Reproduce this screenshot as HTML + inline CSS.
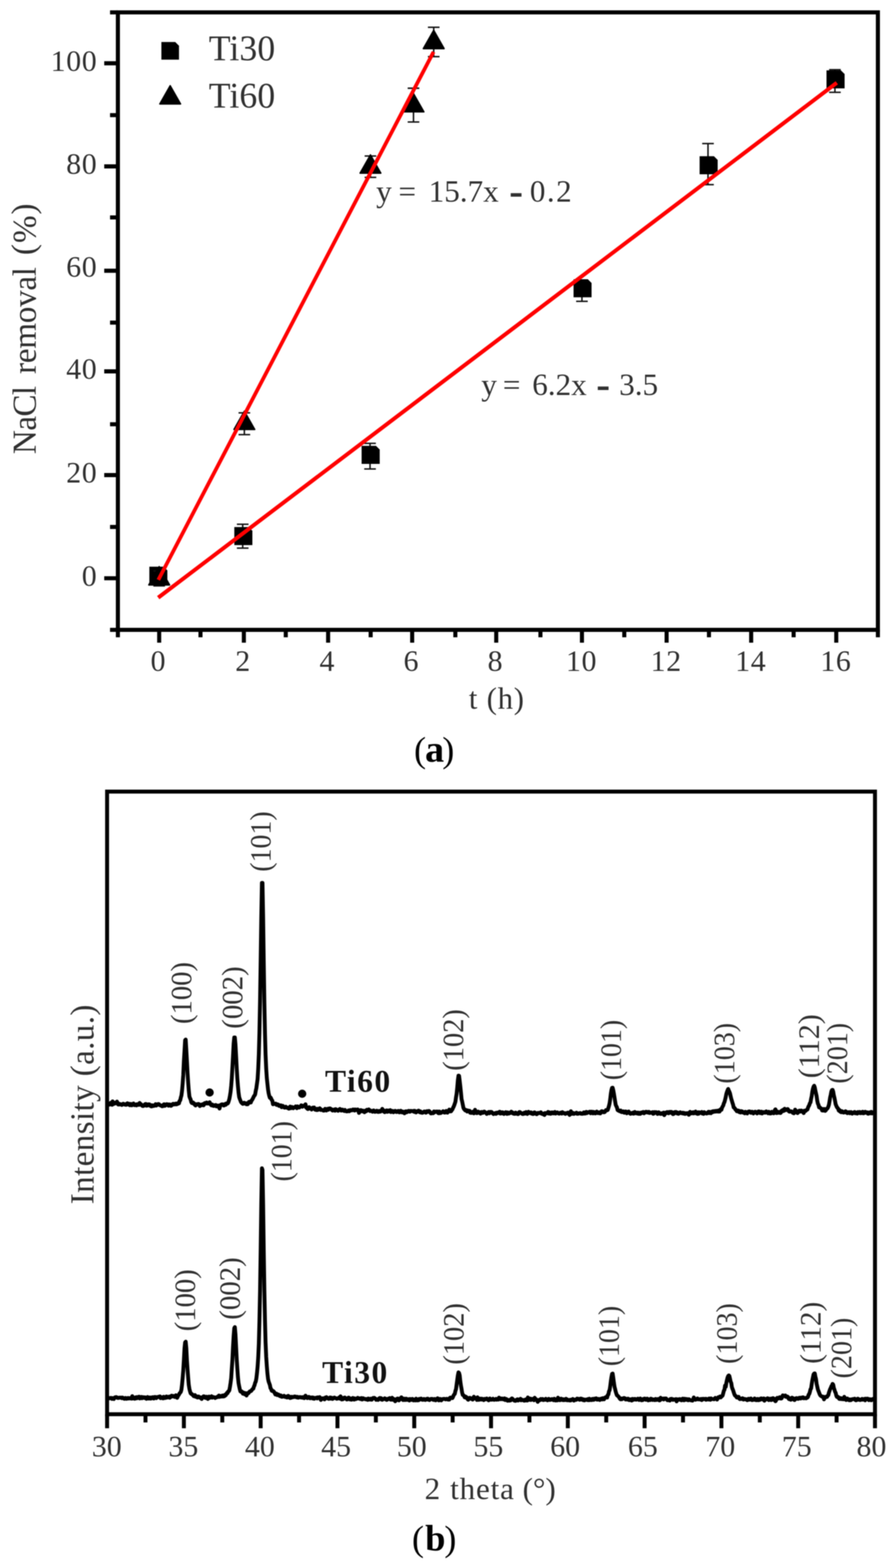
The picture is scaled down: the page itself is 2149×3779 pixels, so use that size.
<!DOCTYPE html>
<html lang="en"><head><meta charset="utf-8"><title>Figure</title>
<style>
html,body{margin:0;padding:0;background:#fff;}
body{width:2149px;height:3779px;}
svg{display:block;filter:blur(1px);}
text{font-family:"Liberation Serif", "DejaVu Serif", serif;}
</style></head><body>
<svg width="2149" height="3779" viewBox="0 0 2149 3779">
<rect width="2149" height="3779" fill="#fff"/>
<g id="plot-a">
<rect x="284.0" y="29.8" width="1831.0" height="1488.2" fill="none" stroke="#000" stroke-width="9.8"/>
<g stroke="#000" stroke-width="9.8">
<line x1="265.1" y1="1518.0" x2="284.0" y2="1518.0"/>
<line x1="251.1" y1="1393.7" x2="284.0" y2="1393.7"/>
<line x1="265.1" y1="1270.0" x2="284.0" y2="1270.0"/>
<line x1="251.1" y1="1145.0" x2="284.0" y2="1145.0"/>
<line x1="265.1" y1="1022.5" x2="284.0" y2="1022.5"/>
<line x1="251.1" y1="895.0" x2="284.0" y2="895.0"/>
<line x1="265.1" y1="777.5" x2="284.0" y2="777.5"/>
<line x1="251.1" y1="652.5" x2="284.0" y2="652.5"/>
<line x1="265.1" y1="524.0" x2="284.0" y2="524.0"/>
<line x1="251.1" y1="401.0" x2="284.0" y2="401.0"/>
<line x1="265.1" y1="277.5" x2="284.0" y2="277.5"/>
<line x1="251.1" y1="152.5" x2="284.0" y2="152.5"/>
<line x1="265.1" y1="29.8" x2="284.0" y2="29.8"/>
<line x1="284.0" y1="1518.0" x2="284.0" y2="1535.9"/>
<line x1="383.5" y1="1518.0" x2="383.5" y2="1548.9"/>
<line x1="483.0" y1="1518.0" x2="483.0" y2="1535.9"/>
<line x1="587.5" y1="1518.0" x2="587.5" y2="1548.9"/>
<line x1="688.5" y1="1518.0" x2="688.5" y2="1535.9"/>
<line x1="790.5" y1="1518.0" x2="790.5" y2="1548.9"/>
<line x1="893.0" y1="1518.0" x2="893.0" y2="1535.9"/>
<line x1="993.0" y1="1518.0" x2="993.0" y2="1548.9"/>
<line x1="1097.0" y1="1518.0" x2="1097.0" y2="1535.9"/>
<line x1="1195.5" y1="1518.0" x2="1195.5" y2="1548.9"/>
<line x1="1302.0" y1="1518.0" x2="1302.0" y2="1535.9"/>
<line x1="1402.0" y1="1518.0" x2="1402.0" y2="1548.9"/>
<line x1="1504.0" y1="1518.0" x2="1504.0" y2="1535.9"/>
<line x1="1606.0" y1="1518.0" x2="1606.0" y2="1548.9"/>
<line x1="1708.0" y1="1518.0" x2="1708.0" y2="1535.9"/>
<line x1="1809.7" y1="1518.0" x2="1809.7" y2="1548.9"/>
<line x1="1912.0" y1="1518.0" x2="1912.0" y2="1535.9"/>
<line x1="2014.7" y1="1518.0" x2="2014.7" y2="1548.9"/>
<line x1="2115.0" y1="1518.0" x2="2115.0" y2="1535.9"/>
</g>
<g font-family='"Liberation Serif", "DejaVu Serif", serif'>
<text x="234.5" y="1412.0" font-size="72" text-anchor="end" fill="#303030" letter-spacing="1.5">0</text>
<text x="234.5" y="1163.3" font-size="72" text-anchor="end" fill="#303030" letter-spacing="1.5">20</text>
<text x="234.5" y="913.3" font-size="72" text-anchor="end" fill="#303030" letter-spacing="1.5">40</text>
<text x="234.5" y="666.8" font-size="72" text-anchor="end" fill="#303030" letter-spacing="1.5">60</text>
<text x="234.5" y="419.3" font-size="72" text-anchor="end" fill="#303030" letter-spacing="1.5">80</text>
<text x="234.5" y="170.8" font-size="72" text-anchor="end" fill="#303030" letter-spacing="1.5">100</text>
<text x="381.5" y="1617.0" font-size="72" text-anchor="middle" fill="#303030" letter-spacing="1.5">0</text>
<text x="585.5" y="1617.0" font-size="72" text-anchor="middle" fill="#303030" letter-spacing="1.5">2</text>
<text x="788.5" y="1617.0" font-size="72" text-anchor="middle" fill="#303030" letter-spacing="1.5">4</text>
<text x="991.0" y="1617.0" font-size="72" text-anchor="middle" fill="#303030" letter-spacing="1.5">6</text>
<text x="1193.5" y="1617.0" font-size="72" text-anchor="middle" fill="#303030" letter-spacing="1.5">8</text>
<text x="1401.0" y="1617.0" font-size="72" text-anchor="middle" fill="#303030" letter-spacing="1.5">10</text>
<text x="1605.0" y="1617.0" font-size="72" text-anchor="middle" fill="#303030" letter-spacing="1.5">12</text>
<text x="1808.7" y="1617.0" font-size="72" text-anchor="middle" fill="#303030" letter-spacing="1.5">14</text>
<text x="2013.7" y="1617.0" font-size="72" text-anchor="middle" fill="#303030" letter-spacing="1.5">16</text>
<text transform="translate(86 1092.5) rotate(-90)" font-size="80" fill="#303030"><tspan x="-1.9" letter-spacing="-1.5">NaCl </tspan><tspan x="191.3" letter-spacing="-0.75">removal </tspan><tspan x="477.8" dy="-3.5">(</tspan><tspan dx="2.2" dy="3.5">%</tspan><tspan dx="2.2" dy="-3.5">)</tspan></text>
<text x="1129.5" y="1707.5" font-size="74" text-anchor="start" textLength="133.0" lengthAdjust="spacing" fill="#303030">t (h)</text>
<text x="503.0" y="145.0" font-size="86" text-anchor="start" textLength="160.0" lengthAdjust="spacing" fill="#303030">Ti30</text>
<text x="503.0" y="258.5" font-size="86" text-anchor="start" textLength="160.0" lengthAdjust="spacing" fill="#303030">Ti60</text>
<text y="486" font-size="75" fill="#303030"><tspan x="906.3">y </tspan><tspan x="960.1">= </tspan><tspan x="1032.8">15.7x </tspan><tspan x="1226.8" font-size="100" font-weight="bold" dy="6.5">- </tspan><tspan x="1276.5" dy="-6.5" letter-spacing="3.5">0.2</tspan></text>
<text y="952" font-size="75" fill="#303030"><tspan x="1159.5">y </tspan><tspan x="1211.5">= </tspan><tspan x="1282.3">6.2x </tspan><tspan x="1436.6" font-size="100" font-weight="bold" dy="6.5">- </tspan><tspan x="1491.8" dy="-6.5">3.5</tspan></text>
</g>
<path d="M388.8 101.2 H422.2 L431.2 110.2 V143.8 H388.8 Z" fill="#000"/>
<path d="M410.0 206.5 L435.0 250.5 H385.0 Z" fill="#000" stroke="#000" stroke-width="3.5" stroke-linejoin="round"/>
<path d="M380.0 1370.0 V1408.0 M366.0 1370.0 h28 M366.0 1408.0 h28" fill="none" stroke="#111" stroke-width="3.6"/>
<path d="M359.8 1365.8 H394.2 L403.2 1374.8 V1409.2 H359.8 Z" fill="#000"/>
<path d="M584.7 1263.5 V1321.0 M570.7 1263.5 h28 M570.7 1321.0 h28" fill="none" stroke="#111" stroke-width="3.6"/>
<path d="M564.5 1270.2 H599.0 L608.0 1279.2 V1313.8 H564.5 Z" fill="#000"/>
<path d="M891.5 1068.5 V1130.3 M877.5 1068.5 h28 M877.5 1130.3 h28" fill="none" stroke="#111" stroke-width="3.6"/>
<path d="M871.2 1074.5 H905.8 L914.8 1083.5 V1118.0 H871.2 Z" fill="#000"/>
<path d="M1402.0 676.0 V726.2 M1388.0 676.0 h28 M1388.0 726.2 h28" fill="none" stroke="#111" stroke-width="3.6"/>
<path d="M1381.8 673.0 H1416.2 L1425.2 682.0 V716.5 H1381.8 Z" fill="#000"/>
<path d="M1705.7 346.0 V445.0 M1691.7 346.0 h28 M1691.7 445.0 h28" fill="none" stroke="#111" stroke-width="3.6"/>
<path d="M1685.5 376.4 H1720.0 L1729.0 385.4 V419.9 H1685.5 Z" fill="#000"/>
<path d="M2011.5 168.0 V222.5 M1997.5 168.0 h28 M1997.5 222.5 h28" fill="none" stroke="#111" stroke-width="3.6"/>
<path d="M1991.2 169.4 H2025.8 L2034.8 178.4 V212.9 H1991.2 Z" fill="#000"/>
<path d="M383.5 1376.0 V1412.0 M369.5 1376.0 h28 M369.5 1412.0 h28" fill="none" stroke="#111" stroke-width="3.6"/>
<path d="M383.5 1365.7 L408.5 1409.7 H358.5 Z" fill="#000" stroke="#000" stroke-width="3.5" stroke-linejoin="round"/>
<path d="M588.7 995.0 V1047.5 M574.7 995.0 h28 M574.7 1047.5 h28" fill="none" stroke="#111" stroke-width="3.6"/>
<path d="M588.7 991.0 L613.7 1035.0 H563.7 Z" fill="#000" stroke="#000" stroke-width="3.5" stroke-linejoin="round"/>
<path d="M892.5 376.0 V427.5 M878.5 376.0 h28 M878.5 427.5 h28" fill="none" stroke="#111" stroke-width="3.6"/>
<path d="M892.5 373.3 L917.5 417.3 H867.5 Z" fill="#000" stroke="#000" stroke-width="3.5" stroke-linejoin="round"/>
<path d="M996.2 212.6 V294.0 M982.2 212.6 h28 M982.2 294.0 h28" fill="none" stroke="#111" stroke-width="3.6"/>
<path d="M996.2 225.5 L1021.2 269.5 H971.2 Z" fill="#000" stroke="#000" stroke-width="3.5" stroke-linejoin="round"/>
<path d="M1044.9 65.8 V136.5 M1030.9 65.8 h28 M1030.9 136.5 h28" fill="none" stroke="#111" stroke-width="3.6"/>
<path d="M1044.9 73.2 L1069.9 117.2 H1019.9 Z" fill="#000" stroke="#000" stroke-width="3.5" stroke-linejoin="round"/>
<line x1="381.5" y1="1397.5" x2="1044.5" y2="125" stroke="#ff0000" stroke-width="9"/>
<line x1="381.2" y1="1440.4" x2="2016" y2="199.5" stroke="#ff0000" stroke-width="9.5"/>
</g>
<g font-family='"Liberation Serif", "DejaVu Serif", serif' fill="#000">
<text y="1836"><tspan x="997.5" font-size="87">(</tspan><tspan x="1024" font-size="92" font-weight="bold">a</tspan><tspan x="1065.5" font-size="87">)</tspan></text>
<text y="3736.5"><tspan x="992.4" font-size="87">(</tspan><tspan x="1024.2" font-size="88" font-weight="bold">b</tspan><tspan x="1070.6" font-size="87">)</tspan></text>
</g>
<g id="plot-b">
<rect x="258.0" y="1907.8" width="1850.0" height="1500.6000000000001" fill="none" stroke="#000" stroke-width="9.5"/>
<g stroke="#000" stroke-width="9.5">
<line x1="258.0" y1="3408.4" x2="258.0" y2="3442.2"/>
<line x1="350.5" y1="3408.4" x2="350.5" y2="3428.2"/>
<line x1="443.0" y1="3408.4" x2="443.0" y2="3442.2"/>
<line x1="535.5" y1="3408.4" x2="535.5" y2="3428.2"/>
<line x1="628.0" y1="3408.4" x2="628.0" y2="3442.2"/>
<line x1="720.5" y1="3408.4" x2="720.5" y2="3428.2"/>
<line x1="813.0" y1="3408.4" x2="813.0" y2="3442.2"/>
<line x1="905.5" y1="3408.4" x2="905.5" y2="3428.2"/>
<line x1="998.0" y1="3408.4" x2="998.0" y2="3442.2"/>
<line x1="1090.5" y1="3408.4" x2="1090.5" y2="3428.2"/>
<line x1="1183.0" y1="3408.4" x2="1183.0" y2="3442.2"/>
<line x1="1275.5" y1="3408.4" x2="1275.5" y2="3428.2"/>
<line x1="1368.0" y1="3408.4" x2="1368.0" y2="3442.2"/>
<line x1="1460.5" y1="3408.4" x2="1460.5" y2="3428.2"/>
<line x1="1553.0" y1="3408.4" x2="1553.0" y2="3442.2"/>
<line x1="1645.5" y1="3408.4" x2="1645.5" y2="3428.2"/>
<line x1="1738.0" y1="3408.4" x2="1738.0" y2="3442.2"/>
<line x1="1830.5" y1="3408.4" x2="1830.5" y2="3428.2"/>
<line x1="1923.0" y1="3408.4" x2="1923.0" y2="3442.2"/>
<line x1="2015.5" y1="3408.4" x2="2015.5" y2="3428.2"/>
<line x1="2108.0" y1="3408.4" x2="2108.0" y2="3442.2"/>
</g>
<g font-family='"Liberation Serif", "DejaVu Serif", serif'>
<text x="257.2" y="3509.5" font-size="72" text-anchor="middle" fill="#303030">30</text>
<text x="441.7" y="3509.5" font-size="72" text-anchor="middle" fill="#303030">35</text>
<text x="626.0" y="3509.5" font-size="72" text-anchor="middle" fill="#303030">40</text>
<text x="809.7" y="3509.5" font-size="72" text-anchor="middle" fill="#303030">45</text>
<text x="992.0" y="3509.5" font-size="72" text-anchor="middle" fill="#303030">50</text>
<text x="1176.5" y="3509.5" font-size="72" text-anchor="middle" fill="#303030">55</text>
<text x="1361.5" y="3509.5" font-size="72" text-anchor="middle" fill="#303030">60</text>
<text x="1548.7" y="3509.5" font-size="72" text-anchor="middle" fill="#303030">65</text>
<text x="1735.2" y="3509.5" font-size="72" text-anchor="middle" fill="#303030">70</text>
<text x="1919.5" y="3509.5" font-size="72" text-anchor="middle" fill="#303030">75</text>
<text x="2099.5" y="3509.5" font-size="72" text-anchor="middle" fill="#303030">80</text>
<text y="3613" font-size="75" fill="#303030"><tspan x="1023">2 </tspan><tspan x="1084.4" letter-spacing="2">theta </tspan><tspan x="1259">(°)</tspan></text>
<text x="225.0" y="2902.4" font-size="80" text-anchor="start" transform="rotate(-90 225.0 2902.4)" textLength="481.3" lengthAdjust="spacing" fill="#303030">Intensity (a.u.)</text>
<text x="783.0" y="2631.0" font-size="76" text-anchor="start" font-weight="bold" textLength="157.0" lengthAdjust="spacing" fill="#111">Ti60</text>
<text x="776.0" y="3332.5" font-size="76" text-anchor="start" font-weight="bold" textLength="157.0" lengthAdjust="spacing" fill="#111">Ti30</text>
<text x="460.5" y="2468.0" font-size="72" text-anchor="start" transform="rotate(-90 460.5 2468.0)" textLength="149.6" lengthAdjust="spacingAndGlyphs" fill="#303030">(100)</text>
<text x="584.3" y="2479.5" font-size="72" text-anchor="start" transform="rotate(-90 584.3 2479.5)" textLength="150.6" lengthAdjust="spacingAndGlyphs" fill="#303030">(002)</text>
<text x="651.8" y="2101.0" font-size="72" text-anchor="start" transform="rotate(-90 651.8 2101.0)" textLength="145.6" lengthAdjust="spacingAndGlyphs" fill="#303030">(101)</text>
<text x="1115.9" y="2580.7" font-size="72" text-anchor="start" transform="rotate(-90 1115.9 2580.7)" textLength="148.6" lengthAdjust="spacingAndGlyphs" fill="#303030">(102)</text>
<text x="1495.9" y="2603.5" font-size="72" text-anchor="start" transform="rotate(-90 1495.9 2603.5)" textLength="145.6" lengthAdjust="spacingAndGlyphs" fill="#303030">(101)</text>
<text x="1769.4" y="2611.7" font-size="72" text-anchor="start" transform="rotate(-90 1769.4 2611.7)" textLength="146.6" lengthAdjust="spacingAndGlyphs" fill="#303030">(103)</text>
<text x="1973.2" y="2598.8" font-size="72" text-anchor="start" transform="rotate(-90 1973.2 2598.8)" textLength="154.6" lengthAdjust="spacingAndGlyphs" fill="#303030">(112)</text>
<text x="2041.5" y="2611.7" font-size="72" text-anchor="start" transform="rotate(-90 2041.5 2611.7)" textLength="146.6" lengthAdjust="spacingAndGlyphs" fill="#303030">(201)</text>
<text x="469.6" y="3208.6" font-size="72" text-anchor="start" transform="rotate(-90 469.6 3208.6)" textLength="149.6" lengthAdjust="spacingAndGlyphs" fill="#303030">(100)</text>
<text x="578.2" y="3180.7" font-size="72" text-anchor="start" transform="rotate(-90 578.2 3180.7)" textLength="150.6" lengthAdjust="spacingAndGlyphs" fill="#303030">(002)</text>
<text x="701.8" y="2847.5" font-size="72" text-anchor="start" transform="rotate(-90 701.8 2847.5)" textLength="145.6" lengthAdjust="spacingAndGlyphs" fill="#303030">(101)</text>
<text x="1117.4" y="3289.1" font-size="72" text-anchor="start" transform="rotate(-90 1117.4 3289.1)" textLength="148.6" lengthAdjust="spacingAndGlyphs" fill="#303030">(102)</text>
<text x="1491.3" y="3292.8" font-size="72" text-anchor="start" transform="rotate(-90 1491.3 3292.8)" textLength="145.6" lengthAdjust="spacingAndGlyphs" fill="#303030">(101)</text>
<text x="1774.9" y="3287.2" font-size="72" text-anchor="start" transform="rotate(-90 1774.9 3287.2)" textLength="146.6" lengthAdjust="spacingAndGlyphs" fill="#303030">(103)</text>
<text x="1977.0" y="3287.0" font-size="72" text-anchor="start" transform="rotate(-90 1977.0 3287.0)" textLength="149.6" lengthAdjust="spacingAndGlyphs" fill="#303030">(112)</text>
<text x="2050.7" y="3322.2" font-size="72" text-anchor="start" transform="rotate(-90 2050.7 3322.2)" textLength="146.6" lengthAdjust="spacingAndGlyphs" fill="#303030">(201)</text>
</g>
<path d="M258.0 2657.9 L259.5 2660.8 L261.0 2660.1 L262.4 2660.8 L263.9 2662.3 L265.4 2660.3 L266.9 2657.6 L268.4 2660.7 L269.8 2662.7 L271.3 2654.3 L272.8 2661.1 L274.3 2659.1 L275.8 2657.7 L277.2 2659.5 L278.7 2658.9 L280.2 2658.7 L281.7 2654.9 L283.2 2657.6 L284.6 2661.9 L286.1 2660.2 L287.6 2661.8 L289.1 2660.7 L290.6 2661.8 L292.0 2661.7 L293.5 2663.0 L295.0 2662.1 L296.5 2660.1 L298.0 2660.5 L299.4 2661.3 L300.9 2662.2 L302.4 2661.3 L303.9 2662.8 L305.4 2661.3 L306.8 2659.0 L308.3 2662.0 L309.8 2662.2 L311.3 2660.1 L312.8 2663.8 L314.2 2662.5 L315.7 2660.6 L317.2 2663.9 L318.7 2662.2 L320.2 2662.3 L321.6 2659.5 L323.1 2663.1 L324.6 2663.6 L326.1 2662.6 L327.6 2661.9 L329.0 2664.1 L330.5 2661.2 L332.0 2662.0 L333.5 2661.5 L335.0 2662.9 L336.4 2658.2 L337.9 2662.2 L339.4 2660.8 L340.9 2662.5 L342.4 2664.9 L343.8 2665.6 L345.3 2665.4 L346.8 2664.8 L348.3 2662.2 L349.8 2661.1 L351.2 2660.8 L352.7 2664.8 L354.2 2664.3 L355.7 2664.4 L357.2 2661.5 L358.6 2661.9 L360.1 2661.6 L361.6 2664.1 L363.1 2665.9 L364.6 2666.5 L366.0 2663.6 L367.5 2665.9 L369.0 2664.1 L370.5 2665.4 L372.0 2664.7 L373.4 2663.6 L374.9 2661.1 L376.4 2664.6 L377.9 2663.5 L379.4 2661.7 L380.8 2660.8 L382.3 2660.8 L383.8 2662.0 L385.3 2663.7 L386.8 2664.1 L388.2 2664.3 L389.7 2666.0 L391.2 2666.1 L392.7 2665.8 L394.2 2661.9 L395.6 2661.3 L397.1 2665.2 L398.6 2664.1 L400.1 2663.3 L401.6 2661.1 L403.0 2662.6 L404.5 2661.6 L406.0 2664.8 L407.5 2662.0 L409.0 2661.9 L410.4 2662.4 L411.9 2665.2 L413.4 2663.9 L414.9 2663.4 L416.4 2660.6 L417.8 2660.3 L419.3 2660.6 L420.8 2661.7 L422.3 2660.8 L423.8 2659.6 L425.2 2661.7 L426.7 2660.2 L428.2 2660.6 L429.7 2657.9 L431.2 2659.1 L432.6 2653.3 L434.1 2651.9 L435.6 2645.2 L437.1 2640.2 L438.6 2628.4 L440.0 2612.3 L441.5 2590.8 L443.0 2557.6 L444.5 2533.4 L446.0 2507.0 L447.4 2505.4 L448.9 2531.0 L450.4 2558.0 L451.9 2587.1 L453.4 2609.9 L454.8 2628.1 L456.3 2642.4 L457.8 2646.8 L459.3 2649.8 L460.8 2656.1 L462.2 2658.4 L463.7 2658.1 L465.2 2657.1 L466.7 2660.3 L468.2 2659.7 L469.6 2662.7 L471.1 2664.3 L472.6 2662.2 L474.1 2661.2 L475.6 2661.9 L477.0 2660.8 L478.5 2660.6 L480.0 2662.0 L481.5 2665.6 L483.0 2662.5 L484.4 2663.7 L485.9 2662.2 L487.4 2663.6 L488.9 2661.0 L490.4 2663.9 L491.8 2661.4 L493.3 2658.6 L494.8 2659.1 L496.3 2659.6 L497.8 2657.1 L499.2 2659.0 L500.7 2659.6 L502.2 2658.8 L503.7 2659.3 L505.2 2656.5 L506.6 2661.0 L508.1 2662.8 L509.6 2664.0 L511.1 2661.8 L512.6 2664.2 L514.0 2665.3 L515.5 2665.1 L517.0 2663.9 L518.5 2665.2 L520.0 2663.2 L521.4 2666.5 L522.9 2665.1 L524.4 2666.4 L525.9 2664.3 L527.4 2667.2 L528.8 2671.6 L530.3 2666.4 L531.8 2662.6 L533.3 2662.3 L534.8 2661.4 L536.2 2662.6 L537.7 2661.8 L539.2 2664.4 L540.7 2663.1 L542.2 2660.7 L543.6 2662.8 L545.1 2659.4 L546.6 2659.7 L548.1 2659.8 L549.6 2658.0 L551.0 2653.9 L552.5 2648.8 L554.0 2640.8 L555.5 2631.5 L557.0 2616.9 L558.4 2599.0 L559.9 2572.6 L561.4 2545.1 L562.9 2515.3 L564.4 2500.3 L565.8 2500.3 L567.3 2516.9 L568.8 2544.7 L570.3 2574.4 L571.8 2599.3 L573.2 2617.1 L574.7 2633.0 L576.2 2644.0 L577.7 2648.6 L579.2 2652.4 L580.6 2655.9 L582.1 2657.8 L583.6 2659.4 L585.1 2660.4 L586.6 2659.6 L588.0 2657.6 L589.5 2658.9 L591.0 2660.0 L592.5 2658.8 L594.0 2661.4 L595.4 2659.9 L596.9 2661.3 L598.4 2657.6 L599.9 2655.6 L601.4 2655.3 L602.8 2657.3 L604.3 2657.0 L605.8 2652.3 L607.3 2651.1 L608.8 2648.2 L610.2 2645.5 L611.7 2642.0 L613.2 2640.4 L614.7 2637.5 L616.2 2628.7 L617.6 2622.4 L619.1 2611.7 L620.6 2600.7 L622.1 2575.9 L623.6 2540.1 L625.0 2489.2 L626.5 2412.5 L628.0 2315.7 L629.5 2209.7 L631.0 2127.9 L632.4 2127.8 L633.9 2210.2 L635.4 2317.8 L636.9 2415.9 L638.4 2489.8 L639.8 2541.3 L641.3 2575.0 L642.8 2598.0 L644.3 2612.2 L645.8 2626.0 L647.2 2634.7 L648.7 2641.1 L650.2 2645.9 L651.7 2644.8 L653.2 2647.4 L654.6 2651.1 L656.1 2652.4 L657.6 2661.3 L659.1 2660.6 L660.6 2660.7 L662.0 2660.5 L663.5 2659.6 L665.0 2660.5 L666.5 2663.0 L668.0 2661.4 L669.4 2661.9 L670.9 2662.4 L672.4 2665.4 L673.9 2664.7 L675.4 2664.5 L676.8 2663.8 L678.3 2668.3 L679.8 2667.3 L681.3 2665.1 L682.8 2668.3 L684.2 2668.4 L685.7 2669.5 L687.2 2668.2 L688.7 2667.2 L690.2 2669.5 L691.6 2669.6 L693.1 2670.0 L694.6 2671.3 L696.1 2672.0 L697.6 2668.7 L699.0 2667.0 L700.5 2670.8 L702.0 2670.3 L703.5 2667.9 L705.0 2669.0 L706.4 2670.9 L707.9 2669.6 L709.4 2669.0 L710.9 2667.7 L712.4 2666.6 L713.8 2667.5 L715.3 2670.8 L716.8 2666.4 L718.3 2668.5 L719.8 2667.8 L721.2 2669.1 L722.7 2667.7 L724.2 2666.7 L725.7 2664.0 L727.2 2664.4 L728.6 2667.4 L730.1 2664.9 L731.6 2665.4 L733.1 2665.4 L734.6 2665.3 L736.0 2661.4 L737.5 2669.1 L739.0 2669.0 L740.5 2672.1 L742.0 2672.9 L743.4 2669.6 L744.9 2668.3 L746.4 2671.5 L747.9 2671.0 L749.4 2671.4 L750.8 2674.0 L752.3 2670.3 L753.8 2669.4 L755.3 2669.7 L756.8 2669.3 L758.2 2673.1 L759.7 2674.6 L761.2 2672.7 L762.7 2675.3 L764.2 2672.2 L765.6 2675.1 L767.1 2672.8 L768.6 2673.4 L770.1 2671.0 L771.6 2672.3 L773.0 2675.1 L774.5 2674.7 L776.0 2675.1 L777.5 2675.3 L779.0 2676.5 L780.4 2676.6 L781.9 2676.3 L783.4 2672.3 L784.9 2673.3 L786.4 2676.3 L787.8 2674.7 L789.3 2672.3 L790.8 2674.7 L792.3 2671.8 L793.8 2671.4 L795.2 2671.4 L796.7 2672.9 L798.2 2673.0 L799.7 2675.5 L801.2 2676.5 L802.6 2674.6 L804.1 2674.8 L805.6 2673.8 L807.1 2676.8 L808.6 2673.1 L810.0 2674.0 L811.5 2675.7 L813.0 2676.0 L814.5 2677.2 L816.0 2674.3 L817.4 2674.1 L818.9 2672.6 L820.4 2674.8 L821.9 2676.6 L823.4 2674.5 L824.8 2674.2 L826.3 2676.2 L827.8 2675.6 L829.3 2677.5 L830.8 2674.9 L832.2 2677.7 L833.7 2678.1 L835.2 2678.5 L836.7 2678.4 L838.2 2677.8 L839.6 2676.2 L841.1 2678.3 L842.6 2677.3 L844.1 2675.3 L845.6 2676.3 L847.0 2675.7 L848.5 2675.9 L850.0 2674.0 L851.5 2675.7 L853.0 2674.2 L854.4 2676.6 L855.9 2674.0 L857.4 2674.3 L858.9 2674.3 L860.4 2675.8 L861.8 2673.8 L863.3 2676.3 L864.8 2682.2 L866.3 2679.8 L867.8 2678.7 L869.2 2675.3 L870.7 2678.1 L872.2 2676.5 L873.7 2678.6 L875.2 2676.9 L876.6 2678.3 L878.1 2680.6 L879.6 2677.6 L881.1 2676.3 L882.6 2678.1 L884.0 2674.6 L885.5 2676.0 L887.0 2675.5 L888.5 2673.9 L890.0 2675.0 L891.4 2677.7 L892.9 2677.3 L894.4 2677.3 L895.9 2677.2 L897.4 2679.4 L898.8 2678.3 L900.3 2676.3 L901.8 2677.3 L903.3 2679.7 L904.8 2678.5 L906.2 2678.7 L907.7 2676.9 L909.2 2679.5 L910.7 2678.7 L912.2 2679.9 L913.6 2677.4 L915.1 2678.9 L916.6 2679.1 L918.1 2677.0 L919.6 2675.4 L921.0 2672.4 L922.5 2677.9 L924.0 2675.8 L925.5 2679.5 L927.0 2680.4 L928.4 2678.0 L929.9 2677.0 L931.4 2676.1 L932.9 2679.7 L934.4 2678.0 L935.8 2676.4 L937.3 2678.8 L938.8 2676.4 L940.3 2675.5 L941.8 2680.0 L943.2 2679.1 L944.7 2678.6 L946.2 2677.5 L947.7 2680.5 L949.2 2679.1 L950.6 2679.3 L952.1 2677.3 L953.6 2678.0 L955.1 2680.1 L956.6 2679.7 L958.0 2678.2 L959.5 2677.3 L961.0 2680.3 L962.5 2680.8 L964.0 2678.5 L965.4 2677.0 L966.9 2677.8 L968.4 2681.0 L969.9 2679.2 L971.4 2679.1 L972.8 2680.2 L974.3 2683.2 L975.8 2682.1 L977.3 2678.5 L978.8 2678.5 L980.2 2680.6 L981.7 2678.2 L983.2 2678.3 L984.7 2677.3 L986.2 2679.1 L987.6 2679.3 L989.1 2677.3 L990.6 2677.6 L992.1 2677.6 L993.6 2678.1 L995.0 2678.1 L996.5 2677.3 L998.0 2679.8 L999.5 2677.2 L1001.0 2679.8 L1002.4 2681.1 L1003.9 2678.9 L1005.4 2678.4 L1006.9 2677.4 L1008.4 2676.8 L1009.8 2679.9 L1011.3 2680.6 L1012.8 2678.3 L1014.3 2681.3 L1015.8 2681.7 L1017.2 2681.9 L1018.7 2681.5 L1020.2 2680.8 L1021.7 2678.8 L1023.2 2678.9 L1024.6 2678.8 L1026.1 2681.7 L1027.6 2680.7 L1029.1 2678.0 L1030.6 2678.4 L1032.0 2679.7 L1033.5 2677.7 L1035.0 2678.7 L1036.5 2680.7 L1038.0 2683.4 L1039.4 2683.3 L1040.9 2683.0 L1042.4 2682.0 L1043.9 2682.8 L1045.4 2678.6 L1046.8 2680.9 L1048.3 2679.9 L1049.8 2679.0 L1051.3 2678.8 L1052.8 2680.3 L1054.2 2678.8 L1055.7 2682.7 L1057.2 2683.0 L1058.7 2678.8 L1060.2 2681.0 L1061.6 2682.7 L1063.1 2680.9 L1064.6 2680.2 L1066.1 2680.6 L1067.6 2678.1 L1069.0 2679.7 L1070.5 2681.3 L1072.0 2681.5 L1073.5 2679.2 L1075.0 2677.4 L1076.4 2680.4 L1077.9 2681.7 L1079.4 2678.3 L1080.9 2679.0 L1082.4 2674.2 L1083.8 2676.0 L1085.3 2678.6 L1086.8 2678.2 L1088.3 2675.6 L1089.8 2674.0 L1091.2 2670.5 L1092.7 2667.7 L1094.2 2664.1 L1095.7 2659.8 L1097.2 2655.1 L1098.6 2644.7 L1100.1 2635.8 L1101.6 2621.0 L1103.1 2603.1 L1104.6 2592.3 L1106.0 2592.7 L1107.5 2605.1 L1109.0 2618.3 L1110.5 2633.0 L1112.0 2649.0 L1113.4 2654.6 L1114.9 2662.2 L1116.4 2669.5 L1117.9 2672.8 L1119.4 2674.0 L1120.8 2676.2 L1122.3 2674.9 L1123.8 2676.8 L1125.3 2678.9 L1126.8 2676.2 L1128.2 2677.8 L1129.7 2677.3 L1131.2 2677.1 L1132.7 2681.7 L1134.2 2682.1 L1135.6 2680.7 L1137.1 2682.1 L1138.6 2679.5 L1140.1 2680.8 L1141.6 2683.2 L1143.0 2679.8 L1144.5 2674.7 L1146.0 2681.9 L1147.5 2680.9 L1149.0 2682.9 L1150.4 2680.1 L1151.9 2679.1 L1153.4 2680.8 L1154.9 2682.5 L1156.4 2680.5 L1157.8 2684.0 L1159.3 2681.0 L1160.8 2679.8 L1162.3 2682.2 L1163.8 2682.1 L1165.2 2680.2 L1166.7 2679.0 L1168.2 2679.8 L1169.7 2681.5 L1171.2 2681.9 L1172.6 2684.6 L1174.1 2682.1 L1175.6 2682.4 L1177.1 2680.0 L1178.6 2683.2 L1180.0 2682.4 L1181.5 2679.7 L1183.0 2681.3 L1184.5 2680.2 L1186.0 2682.0 L1187.4 2683.5 L1188.9 2685.0 L1190.4 2683.2 L1191.9 2683.4 L1193.4 2682.5 L1194.8 2684.5 L1196.3 2681.6 L1197.8 2683.2 L1199.3 2681.7 L1200.8 2680.8 L1202.2 2681.3 L1203.7 2679.5 L1205.2 2683.9 L1206.7 2680.4 L1208.2 2682.4 L1209.6 2683.4 L1211.1 2680.7 L1212.6 2683.0 L1214.1 2684.7 L1215.6 2683.7 L1217.0 2682.1 L1218.5 2680.3 L1220.0 2682.7 L1221.5 2684.6 L1223.0 2681.0 L1224.4 2683.1 L1225.9 2683.8 L1227.4 2681.6 L1228.9 2682.1 L1230.4 2682.3 L1231.8 2679.2 L1233.3 2682.1 L1234.8 2681.0 L1236.3 2683.7 L1237.8 2684.3 L1239.2 2683.5 L1240.7 2684.4 L1242.2 2681.5 L1243.7 2682.2 L1245.2 2684.4 L1246.6 2684.5 L1248.1 2685.1 L1249.6 2684.1 L1251.1 2680.2 L1252.6 2680.2 L1254.0 2681.2 L1255.5 2682.6 L1257.0 2683.1 L1258.5 2684.7 L1260.0 2684.8 L1261.4 2684.3 L1262.9 2681.6 L1264.4 2683.9 L1265.9 2683.0 L1267.4 2680.1 L1268.8 2683.5 L1270.3 2684.8 L1271.8 2680.8 L1273.3 2679.6 L1274.8 2681.3 L1276.2 2682.6 L1277.7 2682.5 L1279.2 2680.8 L1280.7 2683.9 L1282.2 2684.2 L1283.6 2684.9 L1285.1 2684.7 L1286.6 2681.1 L1288.1 2680.9 L1289.6 2682.0 L1291.0 2684.0 L1292.5 2685.3 L1294.0 2684.9 L1295.5 2682.4 L1297.0 2682.2 L1298.4 2682.6 L1299.9 2682.3 L1301.4 2682.8 L1302.9 2680.6 L1304.4 2683.7 L1305.8 2684.6 L1307.3 2684.3 L1308.8 2685.4 L1310.3 2683.5 L1311.8 2687.2 L1313.2 2682.7 L1314.7 2682.7 L1316.2 2682.9 L1317.7 2683.2 L1319.2 2682.3 L1320.6 2679.8 L1322.1 2683.8 L1323.6 2680.9 L1325.1 2682.4 L1326.6 2684.3 L1328.0 2682.1 L1329.5 2681.0 L1331.0 2683.1 L1332.5 2681.2 L1334.0 2683.4 L1335.4 2681.5 L1336.9 2680.0 L1338.4 2683.8 L1339.9 2682.3 L1341.4 2682.6 L1342.8 2681.0 L1344.3 2683.1 L1345.8 2682.6 L1347.3 2684.0 L1348.8 2683.0 L1350.2 2681.6 L1351.7 2682.2 L1353.2 2683.9 L1354.7 2680.3 L1356.2 2681.4 L1357.6 2682.4 L1359.1 2683.4 L1360.6 2682.7 L1362.1 2684.5 L1363.6 2683.3 L1365.0 2682.6 L1366.5 2682.1 L1368.0 2681.5 L1369.5 2684.3 L1371.0 2682.0 L1372.4 2687.1 L1373.9 2681.0 L1375.4 2678.1 L1376.9 2681.3 L1378.4 2684.4 L1379.8 2682.5 L1381.3 2682.3 L1382.8 2684.6 L1384.3 2683.3 L1385.8 2683.2 L1387.2 2682.9 L1388.7 2681.7 L1390.2 2684.3 L1391.7 2683.1 L1393.2 2684.2 L1394.6 2683.1 L1396.1 2683.2 L1397.6 2682.5 L1399.1 2684.0 L1400.6 2683.5 L1402.0 2684.3 L1403.5 2683.9 L1405.0 2684.0 L1406.5 2680.8 L1408.0 2683.5 L1409.4 2683.8 L1410.9 2682.7 L1412.4 2679.7 L1413.9 2682.9 L1415.4 2681.5 L1416.8 2680.4 L1418.3 2680.7 L1419.8 2679.8 L1421.3 2679.1 L1422.8 2683.1 L1424.2 2680.9 L1425.7 2679.3 L1427.2 2680.3 L1428.7 2683.4 L1430.2 2679.8 L1431.6 2680.3 L1433.1 2683.0 L1434.6 2683.4 L1436.1 2681.5 L1437.6 2679.0 L1439.0 2681.8 L1440.5 2682.7 L1442.0 2682.3 L1443.5 2680.7 L1445.0 2683.3 L1446.4 2683.3 L1447.9 2680.8 L1449.4 2678.1 L1450.9 2678.2 L1452.4 2678.8 L1453.8 2680.5 L1455.3 2680.6 L1456.8 2680.1 L1458.3 2678.1 L1459.8 2675.4 L1461.2 2675.4 L1462.7 2675.9 L1464.2 2674.9 L1465.7 2670.2 L1467.2 2665.1 L1468.6 2659.1 L1470.1 2649.2 L1471.6 2636.1 L1473.1 2627.1 L1474.6 2621.8 L1476.0 2621.5 L1477.5 2627.6 L1479.0 2635.8 L1480.5 2645.2 L1482.0 2654.8 L1483.4 2662.9 L1484.9 2666.1 L1486.4 2669.1 L1487.9 2675.3 L1489.4 2676.6 L1490.8 2676.2 L1492.3 2677.9 L1493.8 2677.0 L1495.3 2676.5 L1496.8 2680.0 L1498.2 2679.1 L1499.7 2680.3 L1501.2 2678.4 L1502.7 2678.7 L1504.2 2681.9 L1505.6 2680.3 L1507.1 2678.6 L1508.6 2679.2 L1510.1 2683.2 L1511.6 2679.7 L1513.0 2679.6 L1514.5 2678.8 L1516.0 2682.1 L1517.5 2683.2 L1519.0 2684.4 L1520.4 2682.5 L1521.9 2683.1 L1523.4 2683.5 L1524.9 2681.5 L1526.4 2684.0 L1527.8 2681.8 L1529.3 2679.8 L1530.8 2683.1 L1532.3 2681.5 L1533.8 2682.6 L1535.2 2683.6 L1536.7 2681.3 L1538.2 2684.3 L1539.7 2684.3 L1541.2 2681.9 L1542.6 2684.4 L1544.1 2682.0 L1545.6 2681.1 L1547.1 2682.1 L1548.6 2680.4 L1550.0 2679.9 L1551.5 2683.2 L1553.0 2681.7 L1554.5 2680.9 L1556.0 2679.6 L1557.4 2680.8 L1558.9 2679.8 L1560.4 2680.6 L1561.9 2681.7 L1563.4 2679.7 L1564.8 2682.4 L1566.3 2681.5 L1567.8 2681.3 L1569.3 2682.0 L1570.8 2681.5 L1572.2 2680.4 L1573.7 2684.2 L1575.2 2683.8 L1576.7 2680.3 L1578.2 2680.7 L1579.6 2680.5 L1581.1 2680.4 L1582.6 2682.1 L1584.1 2684.7 L1585.6 2682.9 L1587.0 2680.6 L1588.5 2682.2 L1590.0 2684.3 L1591.5 2684.6 L1593.0 2684.7 L1594.4 2682.9 L1595.9 2684.3 L1597.4 2684.3 L1598.9 2681.4 L1600.4 2687.6 L1601.8 2682.9 L1603.3 2681.7 L1604.8 2683.0 L1606.3 2680.3 L1607.8 2680.2 L1609.2 2682.1 L1610.7 2683.1 L1612.2 2679.9 L1613.7 2681.6 L1615.2 2679.7 L1616.6 2681.9 L1618.1 2679.9 L1619.6 2682.9 L1621.1 2685.0 L1622.6 2684.9 L1624.0 2682.8 L1625.5 2680.1 L1627.0 2682.5 L1628.5 2679.8 L1630.0 2680.7 L1631.4 2683.6 L1632.9 2681.5 L1634.4 2684.4 L1635.9 2683.4 L1637.4 2682.1 L1638.8 2680.7 L1640.3 2682.6 L1641.8 2682.7 L1643.3 2683.2 L1644.8 2681.6 L1646.2 2682.1 L1647.7 2684.1 L1649.2 2682.4 L1650.7 2684.6 L1652.2 2683.9 L1653.6 2683.8 L1655.1 2682.6 L1656.6 2683.3 L1658.1 2683.9 L1659.6 2686.7 L1661.0 2681.5 L1662.5 2679.6 L1664.0 2683.1 L1665.5 2683.3 L1667.0 2681.3 L1668.4 2683.2 L1669.9 2680.5 L1671.4 2683.4 L1672.9 2682.7 L1674.4 2680.4 L1675.8 2679.0 L1677.3 2683.2 L1678.8 2683.0 L1680.3 2684.7 L1681.8 2680.6 L1683.2 2684.1 L1684.7 2680.7 L1686.2 2682.1 L1687.7 2682.1 L1689.2 2681.6 L1690.6 2680.0 L1692.1 2683.6 L1693.6 2683.6 L1695.1 2684.5 L1696.6 2680.3 L1698.0 2682.0 L1699.5 2682.2 L1701.0 2683.3 L1702.5 2683.6 L1704.0 2683.0 L1705.4 2681.1 L1706.9 2679.5 L1708.4 2682.5 L1709.9 2679.8 L1711.4 2680.4 L1712.8 2682.9 L1714.3 2679.6 L1715.8 2678.7 L1717.3 2680.3 L1718.8 2678.0 L1720.2 2678.2 L1721.7 2679.2 L1723.2 2677.5 L1724.7 2678.8 L1726.2 2678.9 L1727.6 2677.1 L1729.1 2677.7 L1730.6 2679.1 L1732.1 2675.9 L1733.6 2678.8 L1735.0 2675.0 L1736.5 2673.1 L1738.0 2674.8 L1739.5 2669.7 L1741.0 2666.7 L1742.4 2664.4 L1743.9 2659.1 L1745.4 2656.2 L1746.9 2650.4 L1748.4 2644.2 L1749.8 2636.9 L1751.3 2631.9 L1752.8 2627.8 L1754.3 2624.5 L1755.8 2628.4 L1757.2 2631.2 L1758.7 2635.0 L1760.2 2641.8 L1761.7 2648.0 L1763.2 2652.9 L1764.6 2657.7 L1766.1 2662.2 L1767.6 2669.1 L1769.1 2669.8 L1770.6 2671.5 L1772.0 2674.3 L1773.5 2674.9 L1775.0 2678.1 L1776.5 2676.1 L1778.0 2678.5 L1779.4 2676.7 L1780.9 2680.4 L1782.4 2680.0 L1783.9 2681.3 L1785.4 2677.8 L1786.8 2678.8 L1788.3 2678.7 L1789.8 2681.4 L1791.3 2680.2 L1792.8 2680.6 L1794.2 2683.2 L1795.7 2679.5 L1797.2 2680.7 L1798.7 2681.9 L1800.2 2683.5 L1801.6 2679.9 L1803.1 2679.1 L1804.6 2678.7 L1806.1 2678.7 L1807.6 2679.8 L1809.0 2682.0 L1810.5 2679.6 L1812.0 2679.3 L1813.5 2680.9 L1815.0 2683.5 L1816.4 2682.2 L1817.9 2679.8 L1819.4 2679.2 L1820.9 2680.2 L1822.4 2681.1 L1823.8 2683.5 L1825.3 2680.6 L1826.8 2678.8 L1828.3 2678.5 L1829.8 2679.2 L1831.2 2682.7 L1832.7 2679.9 L1834.2 2679.2 L1835.7 2683.6 L1837.2 2682.9 L1838.6 2680.1 L1840.1 2680.5 L1841.6 2680.9 L1843.1 2681.7 L1844.6 2679.4 L1846.0 2678.6 L1847.5 2680.6 L1849.0 2681.7 L1850.5 2683.2 L1852.0 2679.4 L1853.4 2682.5 L1854.9 2683.6 L1856.4 2682.8 L1857.9 2683.2 L1859.4 2679.5 L1860.8 2681.8 L1862.3 2681.8 L1863.8 2683.1 L1865.3 2682.3 L1866.8 2675.4 L1868.2 2673.6 L1869.7 2678.9 L1871.2 2682.7 L1872.7 2678.9 L1874.2 2680.0 L1875.6 2681.9 L1877.1 2679.8 L1878.6 2681.9 L1880.1 2682.4 L1881.6 2681.3 L1883.0 2676.9 L1884.5 2677.9 L1886.0 2674.9 L1887.5 2677.6 L1889.0 2676.6 L1890.4 2672.2 L1891.9 2675.8 L1893.4 2674.1 L1894.9 2673.6 L1896.4 2675.0 L1897.8 2672.8 L1899.3 2675.2 L1900.8 2678.6 L1902.3 2679.3 L1903.8 2678.1 L1905.2 2678.5 L1906.7 2678.5 L1908.2 2679.5 L1909.7 2681.9 L1911.2 2682.6 L1912.6 2683.0 L1914.1 2680.1 L1915.6 2674.3 L1917.1 2678.5 L1918.6 2677.6 L1920.0 2681.1 L1921.5 2682.7 L1923.0 2678.7 L1924.5 2677.6 L1926.0 2676.7 L1927.4 2679.2 L1928.9 2678.7 L1930.4 2676.5 L1931.9 2677.2 L1933.4 2679.8 L1934.8 2679.5 L1936.3 2682.6 L1937.8 2676.8 L1939.3 2677.5 L1940.8 2677.6 L1942.2 2675.7 L1943.7 2674.8 L1945.2 2674.2 L1946.7 2669.3 L1948.2 2665.9 L1949.6 2663.7 L1951.1 2658.8 L1952.6 2656.9 L1954.1 2648.4 L1955.6 2641.4 L1957.0 2631.3 L1958.5 2624.0 L1960.0 2619.1 L1961.5 2616.7 L1963.0 2620.9 L1964.4 2628.3 L1965.9 2635.0 L1967.4 2641.8 L1968.9 2652.8 L1970.4 2659.8 L1971.8 2662.4 L1973.3 2668.8 L1974.8 2668.3 L1976.3 2670.2 L1977.8 2671.4 L1979.2 2672.0 L1980.7 2676.4 L1982.2 2673.2 L1983.7 2676.6 L1985.2 2672.7 L1986.6 2675.6 L1988.1 2677.1 L1989.6 2675.9 L1991.1 2672.4 L1992.6 2672.2 L1994.0 2670.6 L1995.5 2667.3 L1997.0 2662.8 L1998.5 2654.4 L2000.0 2644.8 L2001.4 2638.7 L2002.9 2630.6 L2004.4 2627.1 L2005.9 2626.6 L2007.4 2631.2 L2008.8 2639.7 L2010.3 2645.6 L2011.8 2653.3 L2013.3 2661.4 L2014.8 2664.9 L2016.2 2668.2 L2017.7 2670.0 L2019.2 2671.9 L2020.7 2676.6 L2022.2 2674.9 L2023.6 2678.5 L2025.1 2679.7 L2026.6 2680.6 L2028.1 2677.8 L2029.6 2680.5 L2031.0 2679.4 L2032.5 2681.3 L2034.0 2679.8 L2035.5 2680.8 L2037.0 2678.2 L2038.4 2679.0 L2039.9 2681.7 L2041.4 2682.8 L2042.9 2680.7 L2044.4 2680.8 L2045.8 2680.2 L2047.3 2683.0 L2048.8 2681.9 L2050.3 2680.1 L2051.8 2682.5 L2053.2 2684.1 L2054.7 2682.4 L2056.2 2682.2 L2057.7 2680.5 L2059.2 2680.0 L2060.6 2683.1 L2062.1 2681.5 L2063.6 2683.3 L2065.1 2683.7 L2066.6 2680.1 L2068.0 2682.5 L2069.5 2681.7 L2071.0 2679.8 L2072.5 2682.8 L2074.0 2681.0 L2075.4 2682.5 L2076.9 2679.9 L2078.4 2679.5 L2079.9 2683.1 L2081.4 2682.8 L2082.8 2681.9 L2084.3 2679.5 L2085.8 2681.5 L2087.3 2680.9 L2088.8 2680.6 L2090.2 2683.7 L2091.7 2684.3 L2093.2 2681.1 L2094.7 2682.7 L2096.2 2683.2 L2097.6 2680.0 L2099.1 2679.7 L2100.6 2683.5 L2102.1 2682.2 L2103.6 2682.5 L2105.0 2680.6 L2106.5 2683.9 L2108.0 2680.4" fill="none" stroke="#000" stroke-width="9.3" stroke-linejoin="round" stroke-linecap="butt"/>
<path d="M258.0 3371.3 L259.5 3367.5 L261.0 3370.3 L262.4 3370.2 L263.9 3369.9 L265.4 3369.7 L266.9 3368.9 L268.4 3370.1 L269.8 3371.5 L271.3 3369.4 L272.8 3370.8 L274.3 3371.6 L275.8 3369.4 L277.2 3367.6 L278.7 3367.4 L280.2 3367.1 L281.7 3367.9 L283.2 3369.1 L284.6 3368.8 L286.1 3369.1 L287.6 3368.4 L289.1 3368.3 L290.6 3368.6 L292.0 3368.5 L293.5 3369.7 L295.0 3368.2 L296.5 3368.9 L298.0 3369.8 L299.4 3371.2 L300.9 3370.7 L302.4 3369.2 L303.9 3371.2 L305.4 3371.2 L306.8 3370.1 L308.3 3369.2 L309.8 3370.5 L311.3 3369.7 L312.8 3369.8 L314.2 3370.3 L315.7 3368.7 L317.2 3370.8 L318.7 3364.8 L320.2 3370.4 L321.6 3369.7 L323.1 3369.6 L324.6 3371.1 L326.1 3367.8 L327.6 3370.2 L329.0 3367.2 L330.5 3369.8 L332.0 3368.5 L333.5 3366.6 L335.0 3366.3 L336.4 3370.3 L337.9 3367.5 L339.4 3369.7 L340.9 3366.7 L342.4 3369.8 L343.8 3367.5 L345.3 3367.5 L346.8 3367.6 L348.3 3369.1 L349.8 3367.8 L351.2 3369.2 L352.7 3371.1 L354.2 3370.3 L355.7 3366.9 L357.2 3370.5 L358.6 3370.6 L360.1 3368.4 L361.6 3367.9 L363.1 3370.8 L364.6 3370.2 L366.0 3369.9 L367.5 3367.3 L369.0 3368.1 L370.5 3370.6 L372.0 3366.9 L373.4 3369.2 L374.9 3366.8 L376.4 3369.6 L377.9 3368.2 L379.4 3367.4 L380.8 3366.6 L382.3 3366.4 L383.8 3366.0 L385.3 3365.5 L386.8 3369.7 L388.2 3368.5 L389.7 3367.8 L391.2 3369.5 L392.7 3370.1 L394.2 3366.4 L395.6 3369.6 L397.1 3368.9 L398.6 3369.1 L400.1 3366.0 L401.6 3365.6 L403.0 3368.2 L404.5 3367.0 L406.0 3367.1 L407.5 3366.0 L409.0 3368.7 L410.4 3365.6 L411.9 3366.6 L413.4 3363.7 L414.9 3365.5 L416.4 3364.3 L417.8 3364.4 L419.3 3365.2 L420.8 3366.9 L422.3 3364.0 L423.8 3362.7 L425.2 3364.7 L426.7 3368.8 L428.2 3365.8 L429.7 3362.9 L431.2 3361.0 L432.6 3358.2 L434.1 3356.5 L435.6 3354.5 L437.1 3349.0 L438.6 3336.6 L440.0 3321.5 L441.5 3303.2 L443.0 3278.1 L444.5 3249.7 L446.0 3235.3 L447.4 3233.5 L448.9 3249.5 L450.4 3279.4 L451.9 3301.3 L453.4 3321.2 L454.8 3337.8 L456.3 3347.1 L457.8 3353.2 L459.3 3358.0 L460.8 3359.5 L462.2 3359.7 L463.7 3361.6 L465.2 3362.4 L466.7 3364.9 L468.2 3362.9 L469.6 3362.2 L471.1 3366.4 L472.6 3365.9 L474.1 3365.5 L475.6 3368.1 L477.0 3366.6 L478.5 3365.7 L480.0 3367.2 L481.5 3368.5 L483.0 3367.9 L484.4 3368.0 L485.9 3371.7 L487.4 3368.3 L488.9 3367.3 L490.4 3365.2 L491.8 3365.3 L493.3 3366.2 L494.8 3369.2 L496.3 3368.0 L497.8 3366.4 L499.2 3367.4 L500.7 3371.6 L502.2 3368.2 L503.7 3365.9 L505.2 3369.1 L506.6 3366.9 L508.1 3367.2 L509.6 3365.0 L511.1 3368.5 L512.6 3367.1 L514.0 3366.8 L515.5 3367.3 L517.0 3368.1 L518.5 3369.4 L520.0 3367.8 L521.4 3367.8 L522.9 3366.7 L524.4 3367.1 L525.9 3365.2 L527.4 3363.3 L528.8 3366.7 L530.3 3364.3 L531.8 3364.9 L533.3 3365.8 L534.8 3363.9 L536.2 3363.2 L537.7 3365.7 L539.2 3364.5 L540.7 3365.1 L542.2 3361.3 L543.6 3362.8 L545.1 3360.8 L546.6 3357.1 L548.1 3357.5 L549.6 3353.6 L551.0 3353.3 L552.5 3350.7 L554.0 3342.5 L555.5 3332.7 L557.0 3321.2 L558.4 3299.0 L559.9 3277.4 L561.4 3245.9 L562.9 3219.9 L564.4 3201.1 L565.8 3198.3 L567.3 3215.8 L568.8 3245.7 L570.3 3276.1 L571.8 3298.7 L573.2 3318.7 L574.7 3333.2 L576.2 3341.0 L577.7 3348.0 L579.2 3353.4 L580.6 3354.2 L582.1 3353.2 L583.6 3355.7 L585.1 3358.9 L586.6 3356.2 L588.0 3356.9 L589.5 3360.3 L591.0 3357.4 L592.5 3360.0 L594.0 3363.3 L595.4 3358.1 L596.9 3357.2 L598.4 3357.8 L599.9 3355.9 L601.4 3353.7 L602.8 3352.9 L604.3 3352.8 L605.8 3351.4 L607.3 3349.2 L608.8 3347.5 L610.2 3347.1 L611.7 3341.7 L613.2 3338.6 L614.7 3332.7 L616.2 3329.7 L617.6 3322.2 L619.1 3309.6 L620.6 3293.7 L622.1 3271.6 L623.6 3238.0 L625.0 3185.0 L626.5 3112.0 L628.0 3013.0 L629.5 2900.2 L631.0 2815.6 L632.4 2819.6 L633.9 2902.7 L635.4 3013.5 L636.9 3109.4 L638.4 3182.0 L639.8 3235.3 L641.3 3269.5 L642.8 3292.2 L644.3 3310.4 L645.8 3323.2 L647.2 3329.7 L648.7 3333.8 L650.2 3337.8 L651.7 3345.5 L653.2 3347.7 L654.6 3351.8 L656.1 3352.5 L657.6 3352.1 L659.1 3353.6 L660.6 3354.9 L662.0 3358.0 L663.5 3360.8 L665.0 3360.3 L666.5 3359.0 L668.0 3362.3 L669.4 3360.7 L670.9 3361.0 L672.4 3362.1 L673.9 3364.5 L675.4 3364.2 L676.8 3363.1 L678.3 3366.4 L679.8 3366.1 L681.3 3366.0 L682.8 3365.6 L684.2 3364.0 L685.7 3365.9 L687.2 3366.9 L688.7 3366.1 L690.2 3367.4 L691.6 3368.1 L693.1 3364.6 L694.6 3364.1 L696.1 3366.2 L697.6 3368.8 L699.0 3369.2 L700.5 3366.5 L702.0 3368.5 L703.5 3366.4 L705.0 3367.4 L706.4 3367.0 L707.9 3367.1 L709.4 3365.6 L710.9 3366.0 L712.4 3365.9 L713.8 3367.5 L715.3 3367.9 L716.8 3366.5 L718.3 3368.6 L719.8 3367.9 L721.2 3367.3 L722.7 3366.8 L724.2 3367.8 L725.7 3368.0 L727.2 3367.4 L728.6 3368.7 L730.1 3367.2 L731.6 3369.0 L733.1 3369.6 L734.6 3367.5 L736.0 3363.6 L737.5 3366.0 L739.0 3367.2 L740.5 3369.5 L742.0 3368.7 L743.4 3366.6 L744.9 3367.0 L746.4 3369.8 L747.9 3369.9 L749.4 3368.2 L750.8 3368.8 L752.3 3367.8 L753.8 3370.5 L755.3 3368.3 L756.8 3371.1 L758.2 3370.3 L759.7 3369.1 L761.2 3369.6 L762.7 3368.3 L764.2 3370.3 L765.6 3367.9 L767.1 3368.6 L768.6 3368.3 L770.1 3367.1 L771.6 3370.8 L773.0 3374.0 L774.5 3371.8 L776.0 3370.3 L777.5 3369.9 L779.0 3371.2 L780.4 3371.1 L781.9 3372.7 L783.4 3368.4 L784.9 3368.1 L786.4 3367.3 L787.8 3368.3 L789.3 3370.2 L790.8 3370.9 L792.3 3371.3 L793.8 3370.4 L795.2 3368.0 L796.7 3370.9 L798.2 3368.4 L799.7 3370.2 L801.2 3371.6 L802.6 3369.5 L804.1 3369.0 L805.6 3368.3 L807.1 3369.5 L808.6 3369.4 L810.0 3370.3 L811.5 3371.1 L813.0 3370.6 L814.5 3370.1 L816.0 3368.8 L817.4 3367.8 L818.9 3370.9 L820.4 3365.2 L821.9 3371.5 L823.4 3372.9 L824.8 3369.1 L826.3 3372.3 L827.8 3369.8 L829.3 3368.6 L830.8 3368.2 L832.2 3370.5 L833.7 3370.8 L835.2 3372.8 L836.7 3372.7 L838.2 3369.5 L839.6 3368.4 L841.1 3368.7 L842.6 3372.5 L844.1 3372.9 L845.6 3371.2 L847.0 3373.4 L848.5 3369.9 L850.0 3369.2 L851.5 3370.2 L853.0 3373.1 L854.4 3370.1 L855.9 3372.2 L857.4 3372.0 L858.9 3370.9 L860.4 3370.7 L861.8 3368.8 L863.3 3370.5 L864.8 3369.9 L866.3 3370.7 L867.8 3371.7 L869.2 3370.2 L870.7 3369.4 L872.2 3372.9 L873.7 3369.9 L875.2 3369.8 L876.6 3371.8 L878.1 3371.2 L879.6 3371.5 L881.1 3372.6 L882.6 3371.6 L884.0 3372.5 L885.5 3373.8 L887.0 3370.5 L888.5 3373.2 L890.0 3371.8 L891.4 3372.7 L892.9 3370.8 L894.4 3373.4 L895.9 3373.2 L897.4 3370.9 L898.8 3369.2 L900.3 3369.7 L901.8 3368.9 L903.3 3370.2 L904.8 3371.0 L906.2 3373.7 L907.7 3372.4 L909.2 3372.6 L910.7 3373.9 L912.2 3371.7 L913.6 3370.1 L915.1 3369.2 L916.6 3372.0 L918.1 3369.6 L919.6 3373.4 L921.0 3373.5 L922.5 3371.6 L924.0 3371.4 L925.5 3371.9 L927.0 3370.1 L928.4 3371.0 L929.9 3371.3 L931.4 3373.8 L932.9 3373.3 L934.4 3371.1 L935.8 3371.5 L937.3 3370.6 L938.8 3369.5 L940.3 3372.8 L941.8 3373.3 L943.2 3373.1 L944.7 3368.6 L946.2 3373.5 L947.7 3371.3 L949.2 3371.9 L950.6 3373.5 L952.1 3377.1 L953.6 3375.5 L955.1 3373.6 L956.6 3371.0 L958.0 3370.6 L959.5 3373.9 L961.0 3375.1 L962.5 3371.5 L964.0 3370.3 L965.4 3372.2 L966.9 3367.7 L968.4 3369.4 L969.9 3370.4 L971.4 3374.2 L972.8 3374.0 L974.3 3371.0 L975.8 3374.0 L977.3 3372.2 L978.8 3370.8 L980.2 3373.8 L981.7 3372.2 L983.2 3372.1 L984.7 3374.2 L986.2 3375.4 L987.6 3371.8 L989.1 3372.3 L990.6 3371.9 L992.1 3373.9 L993.6 3371.5 L995.0 3372.9 L996.5 3375.2 L998.0 3373.2 L999.5 3373.9 L1001.0 3375.1 L1002.4 3370.9 L1003.9 3374.4 L1005.4 3375.0 L1006.9 3372.6 L1008.4 3374.7 L1009.8 3371.5 L1011.3 3373.0 L1012.8 3371.7 L1014.3 3370.7 L1015.8 3372.1 L1017.2 3373.5 L1018.7 3372.3 L1020.2 3373.6 L1021.7 3371.6 L1023.2 3373.4 L1024.6 3374.0 L1026.1 3372.8 L1027.6 3371.6 L1029.1 3372.8 L1030.6 3370.9 L1032.0 3373.5 L1033.5 3373.8 L1035.0 3374.2 L1036.5 3372.3 L1038.0 3371.5 L1039.4 3372.1 L1040.9 3371.4 L1042.4 3372.0 L1043.9 3373.8 L1045.4 3373.3 L1046.8 3371.6 L1048.3 3374.7 L1049.8 3374.8 L1051.3 3371.6 L1052.8 3371.5 L1054.2 3370.0 L1055.7 3372.9 L1057.2 3375.0 L1058.7 3374.7 L1060.2 3371.5 L1061.6 3373.7 L1063.1 3375.0 L1064.6 3372.1 L1066.1 3372.2 L1067.6 3371.7 L1069.0 3371.5 L1070.5 3371.5 L1072.0 3371.7 L1073.5 3372.7 L1075.0 3372.2 L1076.4 3371.3 L1077.9 3372.4 L1079.4 3373.1 L1080.9 3371.6 L1082.4 3373.1 L1083.8 3369.1 L1085.3 3368.2 L1086.8 3369.1 L1088.3 3368.2 L1089.8 3369.6 L1091.2 3367.0 L1092.7 3363.3 L1094.2 3360.9 L1095.7 3359.2 L1097.2 3352.1 L1098.6 3348.1 L1100.1 3336.8 L1101.6 3325.7 L1103.1 3314.7 L1104.6 3307.5 L1106.0 3309.1 L1107.5 3314.9 L1109.0 3329.2 L1110.5 3339.7 L1112.0 3347.7 L1113.4 3356.6 L1114.9 3361.9 L1116.4 3362.7 L1117.9 3363.8 L1119.4 3367.7 L1120.8 3368.2 L1122.3 3366.1 L1123.8 3367.3 L1125.3 3369.3 L1126.8 3372.6 L1128.2 3373.5 L1129.7 3369.6 L1131.2 3368.8 L1132.7 3369.1 L1134.2 3369.7 L1135.6 3371.6 L1137.1 3371.5 L1138.6 3373.2 L1140.1 3371.6 L1141.6 3366.2 L1143.0 3369.1 L1144.5 3369.7 L1146.0 3369.4 L1147.5 3370.6 L1149.0 3374.0 L1150.4 3367.6 L1151.9 3373.2 L1153.4 3373.8 L1154.9 3370.7 L1156.4 3371.0 L1157.8 3370.9 L1159.3 3373.2 L1160.8 3371.0 L1162.3 3372.7 L1163.8 3371.8 L1165.2 3374.4 L1166.7 3371.5 L1168.2 3371.3 L1169.7 3372.5 L1171.2 3371.4 L1172.6 3370.6 L1174.1 3372.7 L1175.6 3371.9 L1177.1 3374.9 L1178.6 3371.3 L1180.0 3370.6 L1181.5 3373.1 L1183.0 3372.3 L1184.5 3373.4 L1186.0 3372.8 L1187.4 3371.0 L1188.9 3373.2 L1190.4 3373.7 L1191.9 3373.0 L1193.4 3372.9 L1194.8 3371.5 L1196.3 3373.4 L1197.8 3371.7 L1199.3 3371.8 L1200.8 3373.2 L1202.2 3368.4 L1203.7 3369.6 L1205.2 3370.1 L1206.7 3372.3 L1208.2 3371.7 L1209.6 3370.5 L1211.1 3372.0 L1212.6 3372.5 L1214.1 3370.7 L1215.6 3370.2 L1217.0 3374.2 L1218.5 3372.1 L1220.0 3371.8 L1221.5 3374.8 L1223.0 3375.8 L1224.4 3374.3 L1225.9 3373.9 L1227.4 3375.6 L1228.9 3374.5 L1230.4 3374.9 L1231.8 3371.3 L1233.3 3370.3 L1234.8 3371.1 L1236.3 3373.5 L1237.8 3374.2 L1239.2 3375.7 L1240.7 3376.0 L1242.2 3376.2 L1243.7 3373.9 L1245.2 3373.8 L1246.6 3372.5 L1248.1 3375.4 L1249.6 3373.7 L1251.1 3372.8 L1252.6 3374.1 L1254.0 3371.2 L1255.5 3374.8 L1257.0 3374.5 L1258.5 3373.7 L1260.0 3374.5 L1261.4 3374.8 L1262.9 3375.8 L1264.4 3373.6 L1265.9 3375.4 L1267.4 3372.5 L1268.8 3374.5 L1270.3 3375.3 L1271.8 3368.0 L1273.3 3371.4 L1274.8 3373.8 L1276.2 3371.6 L1277.7 3370.7 L1279.2 3374.1 L1280.7 3372.2 L1282.2 3371.4 L1283.6 3372.0 L1285.1 3372.6 L1286.6 3374.7 L1288.1 3368.7 L1289.6 3373.3 L1291.0 3371.9 L1292.5 3373.7 L1294.0 3374.5 L1295.5 3378.6 L1297.0 3374.1 L1298.4 3374.1 L1299.9 3374.9 L1301.4 3373.4 L1302.9 3371.6 L1304.4 3373.3 L1305.8 3373.4 L1307.3 3371.7 L1308.8 3374.2 L1310.3 3373.9 L1311.8 3372.9 L1313.2 3373.5 L1314.7 3371.2 L1316.2 3373.1 L1317.7 3374.1 L1319.2 3374.9 L1320.6 3374.0 L1322.1 3371.3 L1323.6 3372.6 L1325.1 3374.0 L1326.6 3373.0 L1328.0 3373.3 L1329.5 3372.0 L1331.0 3372.1 L1332.5 3373.8 L1334.0 3374.7 L1335.4 3371.1 L1336.9 3373.8 L1338.4 3375.3 L1339.9 3373.3 L1341.4 3375.0 L1342.8 3374.8 L1344.3 3368.5 L1345.8 3372.5 L1347.3 3371.6 L1348.8 3374.6 L1350.2 3372.5 L1351.7 3370.8 L1353.2 3373.6 L1354.7 3374.0 L1356.2 3372.2 L1357.6 3374.6 L1359.1 3372.5 L1360.6 3374.2 L1362.1 3373.2 L1363.6 3371.1 L1365.0 3374.6 L1366.5 3372.6 L1368.0 3374.8 L1369.5 3374.7 L1371.0 3374.1 L1372.4 3375.3 L1373.9 3373.6 L1375.4 3374.8 L1376.9 3373.1 L1378.4 3373.6 L1379.8 3371.6 L1381.3 3373.7 L1382.8 3375.5 L1384.3 3373.3 L1385.8 3374.1 L1387.2 3373.0 L1388.7 3373.5 L1390.2 3370.8 L1391.7 3371.4 L1393.2 3371.2 L1394.6 3371.5 L1396.1 3373.5 L1397.6 3372.6 L1399.1 3370.7 L1400.6 3373.2 L1402.0 3371.3 L1403.5 3372.1 L1405.0 3374.5 L1406.5 3372.6 L1408.0 3375.0 L1409.4 3374.1 L1410.9 3373.1 L1412.4 3373.5 L1413.9 3372.8 L1415.4 3374.4 L1416.8 3371.8 L1418.3 3374.5 L1419.8 3371.0 L1421.3 3374.3 L1422.8 3373.5 L1424.2 3372.5 L1425.7 3374.3 L1427.2 3371.5 L1428.7 3372.5 L1430.2 3373.8 L1431.6 3370.9 L1433.1 3371.9 L1434.6 3370.6 L1436.1 3370.1 L1437.6 3373.0 L1439.0 3373.3 L1440.5 3371.4 L1442.0 3371.6 L1443.5 3373.2 L1445.0 3374.2 L1446.4 3371.4 L1447.9 3371.2 L1449.4 3370.6 L1450.9 3372.8 L1452.4 3369.7 L1453.8 3371.8 L1455.3 3372.4 L1456.8 3368.9 L1458.3 3368.1 L1459.8 3367.0 L1461.2 3367.8 L1462.7 3368.2 L1464.2 3362.1 L1465.7 3360.9 L1467.2 3353.1 L1468.6 3350.7 L1470.1 3341.5 L1471.6 3329.0 L1473.1 3318.8 L1474.6 3311.2 L1476.0 3310.3 L1477.5 3320.6 L1479.0 3332.3 L1480.5 3342.1 L1482.0 3348.2 L1483.4 3354.0 L1484.9 3358.9 L1486.4 3362.9 L1487.9 3363.6 L1489.4 3365.3 L1490.8 3366.6 L1492.3 3369.4 L1493.8 3371.4 L1495.3 3372.5 L1496.8 3370.4 L1498.2 3372.3 L1499.7 3371.2 L1501.2 3370.3 L1502.7 3369.3 L1504.2 3369.4 L1505.6 3370.0 L1507.1 3372.8 L1508.6 3371.2 L1510.1 3372.7 L1511.6 3373.1 L1513.0 3370.8 L1514.5 3372.1 L1516.0 3374.4 L1517.5 3373.9 L1519.0 3372.3 L1520.4 3374.8 L1521.9 3375.4 L1523.4 3371.4 L1524.9 3372.2 L1526.4 3373.5 L1527.8 3371.7 L1529.3 3371.7 L1530.8 3371.6 L1532.3 3373.3 L1533.8 3373.2 L1535.2 3372.5 L1536.7 3371.0 L1538.2 3373.0 L1539.7 3374.1 L1541.2 3371.3 L1542.6 3370.5 L1544.1 3372.1 L1545.6 3374.8 L1547.1 3373.0 L1548.6 3374.3 L1550.0 3371.6 L1551.5 3371.2 L1553.0 3370.7 L1554.5 3371.2 L1556.0 3373.6 L1557.4 3373.3 L1558.9 3370.9 L1560.4 3371.2 L1561.9 3374.9 L1563.4 3374.4 L1564.8 3373.5 L1566.3 3374.1 L1567.8 3371.0 L1569.3 3371.3 L1570.8 3372.5 L1572.2 3374.1 L1573.7 3372.7 L1575.2 3372.8 L1576.7 3374.4 L1578.2 3374.1 L1579.6 3371.6 L1581.1 3374.1 L1582.6 3373.0 L1584.1 3372.1 L1585.6 3371.8 L1587.0 3374.4 L1588.5 3375.1 L1590.0 3374.8 L1591.5 3368.7 L1593.0 3371.3 L1594.4 3371.9 L1595.9 3371.0 L1597.4 3370.7 L1598.9 3372.8 L1600.4 3370.6 L1601.8 3371.4 L1603.3 3370.4 L1604.8 3370.4 L1606.3 3372.2 L1607.8 3374.7 L1609.2 3374.7 L1610.7 3374.5 L1612.2 3374.7 L1613.7 3375.6 L1615.2 3371.7 L1616.6 3371.8 L1618.1 3371.3 L1619.6 3372.7 L1621.1 3373.8 L1622.6 3372.5 L1624.0 3373.0 L1625.5 3373.4 L1627.0 3373.3 L1628.5 3371.9 L1630.0 3377.4 L1631.4 3372.3 L1632.9 3374.0 L1634.4 3373.9 L1635.9 3372.3 L1637.4 3371.9 L1638.8 3372.2 L1640.3 3374.3 L1641.8 3374.8 L1643.3 3371.7 L1644.8 3370.8 L1646.2 3374.2 L1647.7 3374.9 L1649.2 3371.1 L1650.7 3373.8 L1652.2 3371.7 L1653.6 3373.7 L1655.1 3371.9 L1656.6 3373.8 L1658.1 3374.8 L1659.6 3372.1 L1661.0 3373.3 L1662.5 3374.0 L1664.0 3374.7 L1665.5 3375.0 L1667.0 3375.0 L1668.4 3375.5 L1669.9 3373.4 L1671.4 3368.0 L1672.9 3371.9 L1674.4 3372.0 L1675.8 3373.6 L1677.3 3372.2 L1678.8 3371.8 L1680.3 3370.3 L1681.8 3372.6 L1683.2 3372.4 L1684.7 3372.3 L1686.2 3372.8 L1687.7 3371.8 L1689.2 3373.6 L1690.6 3374.2 L1692.1 3371.3 L1693.6 3372.4 L1695.1 3371.3 L1696.6 3372.1 L1698.0 3371.9 L1699.5 3371.2 L1701.0 3373.6 L1702.5 3371.6 L1704.0 3372.3 L1705.4 3372.7 L1706.9 3373.0 L1708.4 3370.4 L1709.9 3371.8 L1711.4 3373.6 L1712.8 3370.2 L1714.3 3371.4 L1715.8 3371.9 L1717.3 3371.9 L1718.8 3371.9 L1720.2 3372.4 L1721.7 3370.7 L1723.2 3369.1 L1724.7 3370.2 L1726.2 3369.9 L1727.6 3373.1 L1729.1 3369.0 L1730.6 3367.4 L1732.1 3367.7 L1733.6 3368.1 L1735.0 3365.6 L1736.5 3367.9 L1738.0 3365.4 L1739.5 3364.9 L1741.0 3363.0 L1742.4 3357.7 L1743.9 3351.9 L1745.4 3349.3 L1746.9 3339.3 L1748.4 3342.6 L1749.8 3333.3 L1751.3 3326.2 L1752.8 3320.2 L1754.3 3316.3 L1755.8 3314.9 L1757.2 3316.3 L1758.7 3322.7 L1760.2 3329.9 L1761.7 3333.1 L1763.2 3342.6 L1764.6 3347.0 L1766.1 3350.4 L1767.6 3355.3 L1769.1 3359.8 L1770.6 3363.2 L1772.0 3363.6 L1773.5 3365.7 L1775.0 3367.9 L1776.5 3367.0 L1778.0 3368.5 L1779.4 3366.4 L1780.9 3370.5 L1782.4 3371.9 L1783.9 3370.8 L1785.4 3371.1 L1786.8 3371.7 L1788.3 3369.9 L1789.8 3370.2 L1791.3 3373.0 L1792.8 3371.9 L1794.2 3371.6 L1795.7 3372.5 L1797.2 3372.2 L1798.7 3373.6 L1800.2 3374.5 L1801.6 3373.3 L1803.1 3371.1 L1804.6 3373.5 L1806.1 3371.5 L1807.6 3371.0 L1809.0 3370.4 L1810.5 3373.8 L1812.0 3374.3 L1813.5 3373.8 L1815.0 3372.8 L1816.4 3373.4 L1817.9 3370.5 L1819.4 3371.2 L1820.9 3374.4 L1822.4 3374.5 L1823.8 3374.2 L1825.3 3371.5 L1826.8 3374.5 L1828.3 3372.7 L1829.8 3374.2 L1831.2 3371.2 L1832.7 3372.8 L1834.2 3370.3 L1835.7 3370.9 L1837.2 3372.7 L1838.6 3373.0 L1840.1 3370.3 L1841.6 3375.8 L1843.1 3371.3 L1844.6 3373.2 L1846.0 3372.2 L1847.5 3371.3 L1849.0 3370.0 L1850.5 3370.5 L1852.0 3374.3 L1853.4 3371.3 L1854.9 3371.6 L1856.4 3371.0 L1857.9 3374.3 L1859.4 3371.3 L1860.8 3370.0 L1862.3 3369.7 L1863.8 3373.7 L1865.3 3373.1 L1866.8 3371.5 L1868.2 3377.1 L1869.7 3375.1 L1871.2 3371.2 L1872.7 3368.8 L1874.2 3370.4 L1875.6 3370.4 L1877.1 3369.8 L1878.6 3367.3 L1880.1 3370.0 L1881.6 3370.7 L1883.0 3370.2 L1884.5 3365.8 L1886.0 3362.9 L1887.5 3364.6 L1889.0 3364.3 L1890.4 3364.8 L1891.9 3363.2 L1893.4 3366.5 L1894.9 3365.3 L1896.4 3365.7 L1897.8 3366.1 L1899.3 3369.7 L1900.8 3372.0 L1902.3 3369.7 L1903.8 3371.2 L1905.2 3373.5 L1906.7 3370.4 L1908.2 3368.6 L1909.7 3369.3 L1911.2 3371.0 L1912.6 3373.4 L1914.1 3374.2 L1915.6 3370.5 L1917.1 3371.6 L1918.6 3369.5 L1920.0 3370.9 L1921.5 3370.1 L1923.0 3371.3 L1924.5 3369.2 L1926.0 3368.8 L1927.4 3368.7 L1928.9 3370.5 L1930.4 3368.5 L1931.9 3369.5 L1933.4 3367.9 L1934.8 3367.7 L1936.3 3370.0 L1937.8 3369.0 L1939.3 3369.4 L1940.8 3369.8 L1942.2 3370.0 L1943.7 3368.1 L1945.2 3368.3 L1946.7 3366.4 L1948.2 3361.2 L1949.6 3359.5 L1951.1 3355.0 L1952.6 3348.5 L1954.1 3346.2 L1955.6 3335.9 L1957.0 3327.0 L1958.5 3319.6 L1960.0 3312.5 L1961.5 3310.3 L1963.0 3310.0 L1964.4 3317.6 L1965.9 3323.6 L1967.4 3334.9 L1968.9 3341.7 L1970.4 3348.6 L1971.8 3352.2 L1973.3 3356.1 L1974.8 3360.3 L1976.3 3362.9 L1977.8 3364.3 L1979.2 3365.1 L1980.7 3365.9 L1982.2 3367.0 L1983.7 3366.2 L1985.2 3372.5 L1986.6 3367.6 L1988.1 3368.5 L1989.6 3366.5 L1991.1 3366.0 L1992.6 3366.5 L1994.0 3363.7 L1995.5 3362.6 L1997.0 3356.3 L1998.5 3352.1 L2000.0 3347.8 L2001.4 3345.1 L2002.9 3341.1 L2004.4 3339.1 L2005.9 3335.3 L2007.4 3337.3 L2008.8 3344.7 L2010.3 3349.0 L2011.8 3354.2 L2013.3 3356.8 L2014.8 3363.4 L2016.2 3366.5 L2017.7 3367.2 L2019.2 3366.5 L2020.7 3369.8 L2022.2 3371.6 L2023.6 3371.3 L2025.1 3369.3 L2026.6 3371.9 L2028.1 3370.6 L2029.6 3372.2 L2031.0 3369.8 L2032.5 3372.4 L2034.0 3366.4 L2035.5 3370.4 L2037.0 3371.1 L2038.4 3374.0 L2039.9 3373.5 L2041.4 3370.5 L2042.9 3372.2 L2044.4 3373.8 L2045.8 3374.7 L2047.3 3372.6 L2048.8 3374.6 L2050.3 3374.3 L2051.8 3372.7 L2053.2 3372.1 L2054.7 3372.2 L2056.2 3371.6 L2057.7 3371.9 L2059.2 3371.0 L2060.6 3373.9 L2062.1 3374.8 L2063.6 3373.4 L2065.1 3373.8 L2066.6 3370.9 L2068.0 3372.9 L2069.5 3372.3 L2071.0 3373.9 L2072.5 3374.2 L2074.0 3373.7 L2075.4 3373.1 L2076.9 3371.4 L2078.4 3373.2 L2079.9 3372.5 L2081.4 3372.6 L2082.8 3371.3 L2084.3 3374.9 L2085.8 3371.1 L2087.3 3371.6 L2088.8 3371.0 L2090.2 3371.0 L2091.7 3371.3 L2093.2 3374.5 L2094.7 3372.8 L2096.2 3372.1 L2097.6 3373.4 L2099.1 3374.7 L2100.6 3373.8 L2102.1 3371.9 L2103.6 3371.7 L2105.0 3372.5 L2106.5 3373.3 L2108.0 3367.8" fill="none" stroke="#000" stroke-width="9.3" stroke-linejoin="round" stroke-linecap="butt"/>
<circle cx="505" cy="2633" r="10" fill="#000"/>
<circle cx="728" cy="2636" r="10" fill="#000"/>
</g>
</svg>
</body></html>
